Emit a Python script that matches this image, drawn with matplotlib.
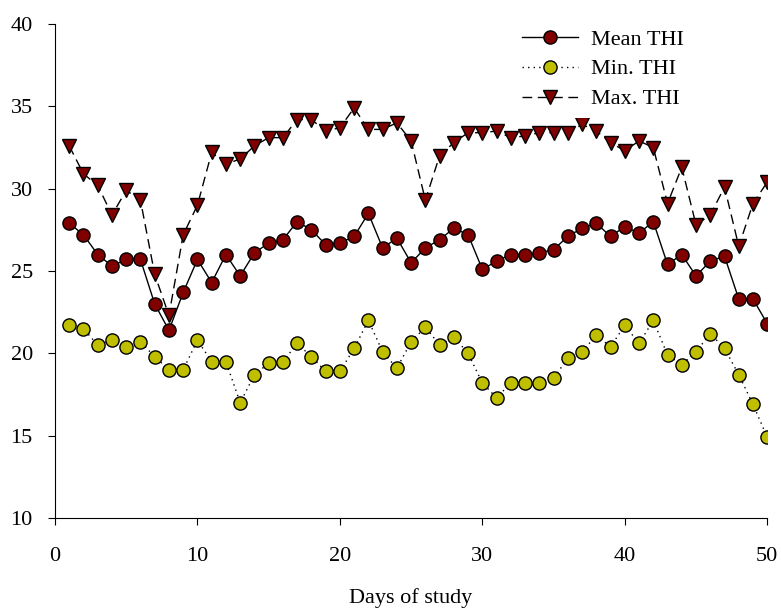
import numpy as np
import matplotlib.pyplot as plt

plt.rcParams['font.family'] = ['Liberation Serif', 'DejaVu Serif']

# daily THI values
days = list(range(1, 51))
mean_thi = [27.9, 27.2, 26.0, 25.3, 25.7, 25.7, 23.0, 21.4, 23.7, 25.7,
            24.3, 26.0, 24.7, 26.1, 26.7, 26.9, 28.0, 27.5, 26.6, 26.7,
            27.1, 28.5, 26.4, 27.0, 25.5, 26.4, 26.9, 27.6, 27.2, 25.1,
            25.6, 26.0, 26.0, 26.1, 26.3, 27.1, 27.6, 27.9, 27.1, 27.7,
            27.3, 28.0, 25.4, 26.0, 24.7, 25.6, 25.9, 23.3, 23.3, 21.8]
min_thi = [21.7, 21.5, 20.5, 20.8, 20.4, 20.7, 19.8, 19.0, 19.0, 20.8,
           19.5, 19.5, 17.0, 18.7, 19.4, 19.5, 20.6, 19.8, 18.9, 18.9,
           20.3, 22.0, 20.1, 19.1, 20.7, 21.6, 20.5, 21.0, 20.0, 18.2,
           17.3, 18.2, 18.2, 18.2, 18.5, 19.7, 20.1, 21.1, 20.4, 21.7,
           20.6, 22.0, 19.9, 19.3, 20.1, 21.2, 20.3, 18.7, 16.9, 14.9]
max_thi = [32.6, 30.9, 30.2, 28.4, 29.9, 29.3, 24.8, 22.3, 27.2, 29.0,
           32.2, 31.5, 31.8, 32.6, 33.1, 33.1, 34.2, 34.2, 33.5, 33.7,
           34.9, 33.6, 33.6, 34.0, 32.9, 29.3, 32.0, 32.8, 33.4, 33.4,
           33.5, 33.1, 33.2, 33.4, 33.4, 33.4, 33.9, 33.5, 32.8, 32.3,
           32.9, 32.5, 29.1, 31.3, 27.8, 28.4, 30.1, 26.5, 29.1, 30.4]

dark_red = '#800000'
olive = '#bfbf00'
fs = 16

fig = plt.figure(figsize=(7.81, 6.08), dpi=100)
ax = fig.add_axes([0.0704, 0.148, 0.912, 0.8125])

ax.plot(days, mean_thi, '-', color='black', lw=1.0, marker='o', ms=9.5,
        mfc=dark_red, mec='black', mew=1.0, label='Mean THI')
ax.plot(days, min_thi, linestyle=(0, (1, 3)), color='black', lw=1.0, marker='o', ms=9.5,
        mfc=olive, mec='black', mew=1.0, label='Min. THI')
ax.plot(days, max_thi, linestyle=(0, (7, 4)), color='black', lw=1.0, marker='v', ms=10,
        mfc=dark_red, mec='black', mew=1.0, label='Max. THI')

ax.set_xlim(0, 50)
ax.set_ylim(10, 40)
ax.set_xticks(np.arange(0, 51, 10))
ax.set_yticks(np.arange(10, 41, 5))
ax.spines['top'].set_visible(False)
ax.spines['right'].set_visible(False)
ax.tick_params(axis='both', direction='out', length=5, labelsize=fs)
ax.tick_params(axis='x', pad=16)
ax.tick_params(axis='y', pad=11)

ax.set_xlabel('Days of study', fontsize=fs, labelpad=16)

leg = ax.legend(loc='upper left', bbox_to_anchor=(0.657, 0.967),
                bbox_transform=fig.transFigure, borderaxespad=0, fontsize=fs,
                handlelength=2.5, handletextpad=0.6, labelspacing=0.42,
                frameon=True, facecolor='white', edgecolor='none', framealpha=1)

plt.savefig('out.png', dpi=100)
